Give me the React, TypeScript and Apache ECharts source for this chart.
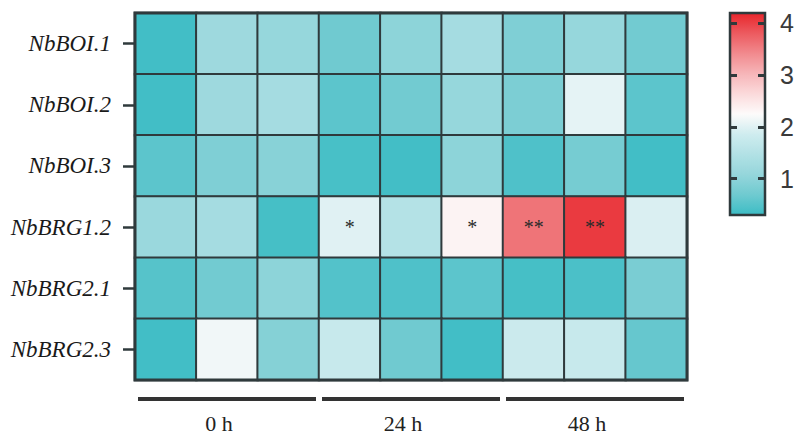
import React, { useEffect, useRef } from "react";
import * as echarts from "echarts";

const genes = ["NbBOI.1", "NbBOI.2", "NbBOI.3", "NbBRG1.2", "NbBRG2.1", "NbBRG2.3"];
const timeGroups = ["0 h", "24 h", "48 h"];
const samples = ["0 h-1", "0 h-2", "0 h-3", "24 h-1", "24 h-2", "24 h-3", "48 h-1", "48 h-2", "48 h-3"];

const nbBOI1 = [0.35, 1.2, 1.1, 0.7, 1.0, 1.3, 0.85, 1.1, 0.72];
const nbBOI2 = [0.35, 1.2, 1.3, 0.55, 0.72, 1.1, 0.82, 2.05, 0.55];
const nbBOI3 = [0.55, 0.85, 0.95, 0.4, 0.36, 1.0, 0.45, 0.76, 0.35];
const nbBRG12 = [1.15, 1.3, 0.38, 2.0, 1.5, 2.35, 3.6, 4.05, 1.95];
const nbBRG21 = [0.5, 0.72, 1.0, 0.48, 0.45, 0.55, 0.38, 0.42, 0.8];
const nbBRG23 = [0.35, 2.15, 0.92, 1.75, 0.7, 0.35, 1.8, 1.75, 0.62];

const nbBRG12Sig = ["", "", "", "*", "", "*", "**", "**", ""];
const noSig = ["", "", "", "", "", "", "", "", ""];

const rows = [nbBOI1, nbBOI2, nbBOI3, nbBRG12, nbBRG21, nbBRG23];
const sigRows = [noSig, noSig, noSig, nbBRG12Sig, noSig, noSig];

const scaleTicks = [1, 2, 3, 4];
const scaleMin = 0.3;
const scaleMax = 4.2;
const scaleColors = [
  "#3bbcc4",
  "#6fcad0",
  "#95d6db",
  "#b2e1e5",
  "#cfecef",
  "#fdfbfb",
  "#fbdadb",
  "#f6b5b8",
  "#f18a8e",
  "#ec5a5f",
  "#e8262c",
];

const lineColor = "#2f3a3c";

export default function App() {
  const ref = useRef<HTMLDivElement>(null);

  useEffect(() => {
    if (!ref.current) return;
    const chart = echarts.init(ref.current, null, { renderer: "svg" });

    const data: any[] = [];
    rows.forEach((row, r) => {
      row.forEach((v, c) => {
        const sig = sigRows[r][c];
        data.push({
          value: [c, r, v],
          label: { show: sig !== "", formatter: sig },
        });
      });
    });

    const option: any = {
      animation: false,
      backgroundColor: "#ffffff",
      grid: [
        {
          left: 135,
          top: 13,
          width: 552,
          height: 367,
          show: true,
          borderColor: lineColor,
          borderWidth: 3,
          backgroundColor: "transparent",
          z: 5,
          outerBoundsMode: "none",
          containLabel: false,
        },
        {
          left: 730,
          top: 13,
          width: 35,
          height: 202,
          show: true,
          borderColor: lineColor,
          borderWidth: 2.5,
          backgroundColor: "transparent",
          z: 10,
          outerBoundsMode: "none",
          containLabel: false,
        },
      ],
      xAxis: [
        {
          type: "category",
          gridIndex: 0,
          data: samples,
          axisLine: { show: false },
          axisTick: { show: false },
          axisLabel: { show: false },
          splitLine: { show: false },
        },
        {
          type: "value",
          gridIndex: 1,
          show: false,
          min: 0,
          max: 1,
        },
      ],
      yAxis: [
        {
          type: "category",
          gridIndex: 0,
          data: genes,
          inverse: true,
          axisLine: { show: false },
          axisTick: {
            show: true,
            alignWithLabel: true,
            length: 12,
            lineStyle: { color: lineColor, width: 2.5 },
          },
          axisLabel: {
            margin: 24,
            fontFamily: "Liberation Serif",
            fontStyle: "italic",
            fontSize: 23,
            color: "#1a1a1a",
          },
          splitLine: { show: false },
        },
        {
          type: "value",
          gridIndex: 1,
          position: "left",
          min: scaleMin,
          max: scaleMax,
          axisLine: { show: false },
          axisTick: {
            show: true,
            inside: true,
            length: 7,
            customValues: scaleTicks,
            lineStyle: { color: lineColor, width: 3 },
          },
          axisLabel: { show: false },
          splitLine: { show: false },
          z: 12,
        },
        {
          type: "value",
          gridIndex: 1,
          position: "right",
          min: scaleMin,
          max: scaleMax,
          axisLine: { show: false },
          axisTick: {
            show: true,
            inside: true,
            length: 7,
            customValues: scaleTicks,
            lineStyle: { color: lineColor, width: 3 },
          },
          axisLabel: {
            show: true,
            customValues: scaleTicks,
            margin: 15,
            fontFamily: "Liberation Sans",
            fontSize: 25,
            color: "#3a3a3a",
          },
          splitLine: { show: false },
          z: 12,
        },
      ],
      visualMap: {
        type: "continuous",
        seriesIndex: 0,
        min: scaleMin,
        max: scaleMax,
        show: true,
        calculable: false,
        hoverLink: false,
        orient: "vertical",
        left: 730,
        top: 13,
        itemWidth: 35,
        itemHeight: 202,
        padding: 0,
        inRange: { color: scaleColors },
        z: 4,
      },
      series: [
        {
          type: "heatmap",
          xAxisIndex: 0,
          yAxisIndex: 0,
          data,
          itemStyle: { borderColor: lineColor, borderWidth: 2 },
          label: {
            show: false,
            fontFamily: "Liberation Serif",
            fontSize: 20,
            color: "#2a2a2a",
          },
          emphasis: { disabled: true },
        },
      ],
    };

    chart.setOption(option);

    const p0 = chart.convertToPixel({ xAxisIndex: 0, yAxisIndex: 0 }, [0, 0]) as number[];
    const p1 = chart.convertToPixel({ xAxisIndex: 0, yAxisIndex: 0 }, [1, 1]) as number[];
    const colW = p1[0] - p0[0];
    const rowH = p1[1] - p0[1];
    const pLast = chart.convertToPixel(
      { xAxisIndex: 0, yAxisIndex: 0 },
      [0, genes.length - 1]
    ) as number[];
    const bottom = pLast[1] + rowH / 2;
    const left = p0[0] - colW / 2;
    const perGroup = samples.length / timeGroups.length;

    const graphics: any[] = [];
    timeGroups.forEach((g, i) => {
      const x0 = left + i * perGroup * colW;
      const x1 = left + (i + 1) * perGroup * colW;
      graphics.push({
        type: "line",
        shape: { x1: x0 + 3, y1: bottom + 19, x2: x1 - 3, y2: bottom + 19 },
        style: { stroke: "#333333", lineWidth: 4 },
      });
      graphics.push({
        type: "text",
        x: (x0 + x1) / 2 - 8,
        y: bottom + 43,
        style: {
          text: g,
          fontFamily: "Liberation Serif",
          fontSize: 22,
          fill: "#222222",
          align: "center",
          verticalAlign: "middle",
        },
      });
    });
    chart.setOption({ graphic: graphics });

    return () => chart.dispose();
  }, []);

  return (
    <div
      ref={ref}
      style={{ position: "fixed", left: 0, top: 0, width: 811, height: 435, background: "#fff" }}
    />
  );
}
